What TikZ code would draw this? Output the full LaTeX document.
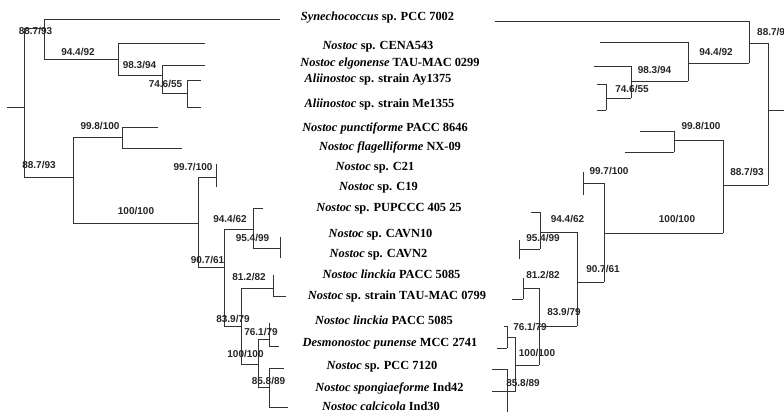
\documentclass[tikz,border=0pt]{standalone}
\usepackage{fontspec}
\setmainfont{Liberation Serif}
\newfontfamily\labfamily{Liberation Sans}
\newcommand{\taxfont}{\fontsize{12.4}{14}\selectfont\bfseries}
\newcommand{\bsfont}{\fontsize{10}{12}\selectfont\labfamily\bfseries}
\tikzset{
  br/.style={draw=black!80, line width=0.75pt},
  bs/.style={font=\bsfont, text=black!85, inner sep=0pt, anchor=center},
  tx/.style={font=\taxfont, text=black, inner sep=0pt, anchor=base}
}
\begin{document}
\begin{tikzpicture}[x=1pt,y=-1pt]
\useasboundingbox (0,0) rectangle (784,412);
\fill[white] (0,0) rectangle (784,412);

% ---------- taxa ----------
\node[tx] (t1)  at (377.5,21)  {\textit{Synechococcus} sp. PCC 7002};
\node[tx] (t2)  at (378,49)    {\textit{Nostoc} sp. CENA543};
\node[tx] (t3)  at (390,66.5)  {\textit{Nostoc elgonense} TAU-MAC 0299};
\node[tx] (t4)  at (378,82.5)  {\textit{Aliinostoc} sp. strain Ay1375};
\node[tx] (t5)  at (379.5,107) {\textit{Aliinostoc} sp. strain Me1355};
\node[tx] (t6)  at (385,131)   {\textit{Nostoc punctiforme} PACC 8646};
\node[tx] (t7)  at (390,150.5) {\textit{Nostoc flagelliforme} NX-09};
\node[tx] (t8)  at (375,170)   {\textit{Nostoc} sp. C21};
\node[tx] (t9)  at (378.5,190) {\textit{Nostoc} sp. C19};
\node[tx] (t10) at (389,211.5) {\textit{Nostoc} sp. PUPCCC 405 25};
\node[tx] (t11) at (380.5,237.5) {\textit{Nostoc} sp. CAVN10};
\node[tx] (t12) at (378.5,257.5) {\textit{Nostoc} sp. CAVN2};
\node[tx] (t13) at (391.5,278.5) {\textit{Nostoc linckia} PACC 5085};
\node[tx] (t14) at (397,299.5) {\textit{Nostoc} sp. strain TAU-MAC 0799};
\node[tx] (t15) at (384,324.5) {\textit{Nostoc linckia} PACC 5085};
\node[tx] (t16) at (390,346.5) {\textit{Desmonostoc punense} MCC 2741};
\node[tx] (t17) at (382,369.5) {\textit{Nostoc} sp. PCC 7120};
\node[tx] (t18) at (389.5,391.5) {\textit{Nostoc spongiaeforme} Ind42};
\node[tx] (t19) at (381,410.5) {\textit{Nostoc calcicola} Ind30};

% ---------- left tree ----------
\draw[br] (7,107) -- (24,107);
\draw[br] (24,28) -- (24,177);
\draw[br] (24,28) -- (44,28);
\draw[br] (44,19) -- (44,59);
\draw[br] (44,19) -- (280,19);
\draw[br] (44,59) -- (118,59);
\draw[br] (118,43) -- (118,75);
\draw[br] (118,43) -- (205,43);
\draw[br] (118,75) -- (162,75);
\draw[br] (162,65) -- (162,93);
\draw[br] (162,65) -- (205,65);
\draw[br] (162,93) -- (187,93);
\draw[br] (187,80) -- (187,107);
\draw[br] (187,80) -- (201,80);
\draw[br] (187,107) -- (201,107);
\draw[br] (24,177) -- (73,177);
\draw[br] (73,137) -- (73,223);
\draw[br] (73,137) -- (122,137);
\draw[br] (122,127) -- (122,148);
\draw[br] (122,127) -- (158,127);
\draw[br] (122,148) -- (182,148);
\draw[br] (73,223) -- (198,223);
\draw[br] (198,177) -- (198,267);
\draw[br] (198,177) -- (216,177);
\draw[br] (216,164) -- (216,187);
\draw[br] (198,267) -- (224,267);
\draw[br] (224,229) -- (224,326);
\draw[br] (224,229) -- (253,229);
\draw[br] (253,208) -- (253,248);
\draw[br] (253,208) -- (263,208);
\draw[br] (253,248) -- (280,248);
\draw[br] (280,237) -- (280,258);
\draw[br] (224,326) -- (241,326);
\draw[br] (241,288) -- (241,364);
\draw[br] (241,288) -- (273,288);
\draw[br] (273,275) -- (273,296);
\draw[br] (273,296) -- (286,296);
\draw[br] (241,364) -- (258,364);
\draw[br] (258,339) -- (258,387);
\draw[br] (258,339) -- (269,339);
\draw[br] (269,323) -- (269,346);
\draw[br] (269,346) -- (279,346);
\draw[br] (258,387) -- (269,387);
\draw[br] (269,368) -- (269,407);
\draw[br] (269,368) -- (284,368);
\draw[br] (269,407) -- (288,407);

% ---------- right tree ----------
\draw[br] (495,21) -- (749,21);
\draw[br] (749,21) -- (749,63);
\draw[br] (688,63) -- (749,63);
\draw[br] (749,43) -- (768,43);
\draw[br] (768,43) -- (768,185);
\draw[br] (768,110) -- (784,110);
\draw[br] (688,42) -- (688,81);
\draw[br] (600,42) -- (688,42);
\draw[br] (631,81) -- (688,81);
\draw[br] (631,66) -- (631,98);
\draw[br] (594,66) -- (631,66);
\draw[br] (606,98) -- (631,98);
\draw[br] (606,84) -- (606,110);
\draw[br] (597,84) -- (606,84);
\draw[br] (597,110) -- (606,110);
\draw[br] (723,185) -- (768,185);
\draw[br] (723,140) -- (723,233);
\draw[br] (674,140) -- (723,140);
\draw[br] (674,131) -- (674,152);
\draw[br] (640,131) -- (674,131);
\draw[br] (625,152) -- (674,152);
\draw[br] (604,233) -- (723,233);
\draw[br] (604,183) -- (604,282);
\draw[br] (583,183) -- (604,183);
\draw[br] (583,172) -- (583,195);
\draw[br] (577,282) -- (604,282);
\draw[br] (577,232) -- (577,326);
\draw[br] (540,232) -- (577,232);
\draw[br] (540,212) -- (540,249);
\draw[br] (531,212) -- (540,212);
\draw[br] (519,249) -- (540,249);
\draw[br] (519,240) -- (519,259);
\draw[br] (539,326) -- (577,326);
\draw[br] (539,288) -- (539,365);
\draw[br] (523,288) -- (539,288);
\draw[br] (523,278) -- (523,299);
\draw[br] (512,299) -- (523,299);
\draw[br] (515,365) -- (539,365);
\draw[br] (515,337) -- (515,392);
\draw[br] (507,337) -- (515,337);
\draw[br] (507,326) -- (507,348);
\draw[br] (504,326) -- (507,326);
\draw[br] (497,348) -- (507,348);
\draw[br] (492,369) -- (507,369);
\draw[br] (507,369) -- (507,412);
\draw[br] (492,391) -- (515,391);

% ---------- support values, left ----------
\node[bs] (l1)  at (35.5,31)  {88.7/93};
\node[bs] (l2)  at (78,51.5)  {94.4/92};
\node[bs] (l3)  at (139.5,65) {98.3/94};
\node[bs] (l4)  at (165.5,84) {74.6/55};
\node[bs] (l5)  at (100,126)  {99.8/100};
\node[bs] (l6)  at (39,165)   {88.7/93};
\node[bs] (l7)  at (193,167)  {99.7/100};
\node[bs] (l8)  at (136,211)  {100/100};
\node[bs] (l9)  at (230,219)  {94.4/62};
\node[bs] (l10) at (252.5,238) {95.4/99};
\node[bs] (l11) at (207.5,260) {90.7/61};
\node[bs] (l12) at (249,277)  {81.2/82};
\node[bs] (l13) at (233,319)  {83.9/79};
\node[bs] (l14) at (261,332)  {76.1/79};
\node[bs] (l15) at (245.5,354) {100/100};
\node[bs] (l16) at (268.5,381) {85.8/89};

% ---------- support values, right ----------
\node[bs,anchor=west] (r1) at (757,32) {88.7/93};
\node[bs] (r2)  at (716,51.5) {94.4/92};
\node[bs] (r3)  at (654.5,70) {98.3/94};
\node[bs] (r4)  at (632,89)   {74.6/55};
\node[bs] (r5)  at (701,126)  {99.8/100};
\node[bs] (r6)  at (747,172)  {88.7/93};
\node[bs] (r7)  at (609,171)  {99.7/100};
\node[bs] (r8)  at (677,219)  {100/100};
\node[bs] (r9)  at (567.5,219) {94.4/62};
\node[bs] (r10) at (543,238)  {95.4/99};
\node[bs] (r11) at (603,269)  {90.7/61};
\node[bs] (r12) at (543,275)  {81.2/82};
\node[bs] (r13) at (564,312)  {83.9/79};
\node[bs] (r14) at (530,327)  {76.1/79};
\node[bs] (r15) at (537,353)  {100/100};
\node[bs] (r16) at (523,382.5) {85.8/89};
\end{tikzpicture}
\end{document}
